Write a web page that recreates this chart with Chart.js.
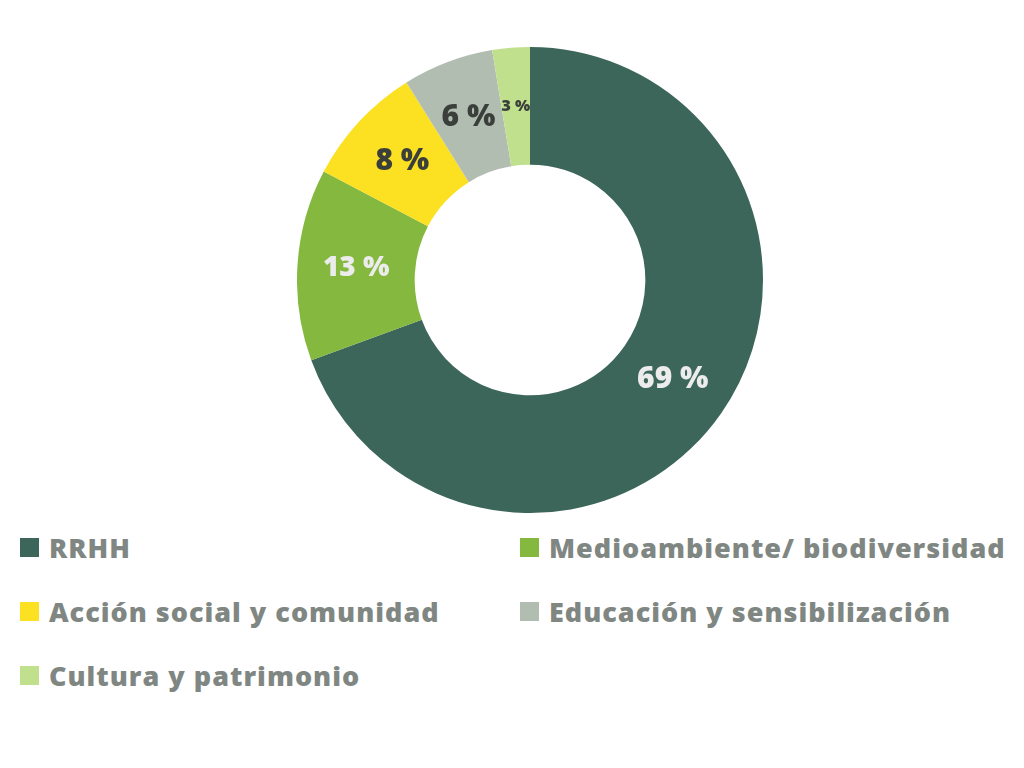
<!DOCTYPE html>
<html lang="es">
<head>
    <meta charset="UTF-8">
    <title>Distribución</title>
    <script src="https://cdn.jsdelivr.net/npm/chart.js"></script>
    <style>
        body { margin: 0; background: #fff; width: 1024px; height: 768px; position: relative; overflow: hidden; font-family: "Open Sans", sans-serif; }
        #chartBox { position: absolute; left: 297px; top: 47px; width: 466px; height: 466px; }
        #legend { position: absolute; left: 20px; top: 529px; width: 1004px; }
        .item { position: absolute; display: flex; align-items: center; font-weight: 800; font-size: 27px; letter-spacing: 1px; color: #808783; white-space: nowrap; }
        .item span.box { width: 19px; height: 19px; margin-right: 10px; display: inline-block; }
    </style>
</head>
<body>

    <!-- Chart -->
    <div id="chartBox"><canvas id="pieChart"></canvas></div>

    <!-- Legend -->
    <div id="legend"></div>

    <script>
        const categories = ['RRHH', 'Medioambiente/ biodiversidad', 'Acción social y comunidad', 'Educación y sensibilización', 'Cultura y patrimonio'];
        const values = [69.4, 13.3, 8.4, 6.3, 2.6];
        const colors = ['#3d665b', '#84b83e', '#fce022', '#b2bdb1', '#c0e08e'];
        const labelColors = ['#ececec', '#ececec', '#3a3f3c', '#3a3f3c', '#3a3f3c'];
        const labelSizes = [30, 28, 30, 30, 16];

        // draws the "xx %" text in the middle of each slice
        const sliceLabels = {
            id: 'sliceLabels',
            afterDatasetsDraw(chart) {
                const ctx = chart.ctx;
                const meta = chart.getDatasetMeta(0);
                meta.data.forEach((arc, i) => {
                    const pos = arc.tooltipPosition();
                    ctx.save();
                    ctx.font = `800 ${labelSizes[i]}px "Open Sans", sans-serif`;
                    ctx.fillStyle = labelColors[i];
                    ctx.textAlign = 'center';
                    ctx.textBaseline = 'middle';
                    ctx.fillText(Math.round(values[i]) + ' %', pos.x, pos.y);
                    ctx.restore();
                });
            }
        };

        new Chart(document.getElementById('pieChart'), {
            type: 'doughnut',
            data: {
                labels: categories,
                datasets: [{
                    data: values,
                    backgroundColor: colors,
                    borderWidth: 0
                }]
            },
            options: {
                responsive: true,
                maintainAspectRatio: false,
                animation: false,
                cutout: '49.5%',
                layout: { padding: 0 },
                plugins: {
                    legend: { display: false },
                    tooltip: { enabled: false }
                }
            },
            plugins: [sliceLabels]
        });

        // legend in two columns
        const legend = document.getElementById('legend');
        categories.forEach((name, i) => {
            const el = document.createElement('div');
            el.className = 'item';
            el.style.left = (i % 2 === 0 ? 0 : 500) + 'px';
            el.style.top = (Math.floor(i / 2) * 64) + 'px';
            el.innerHTML = `<span class="box" style="background:${colors[i]}"></span>${name}`;
            legend.appendChild(el);
        });
    </script>

</body>
</html>
